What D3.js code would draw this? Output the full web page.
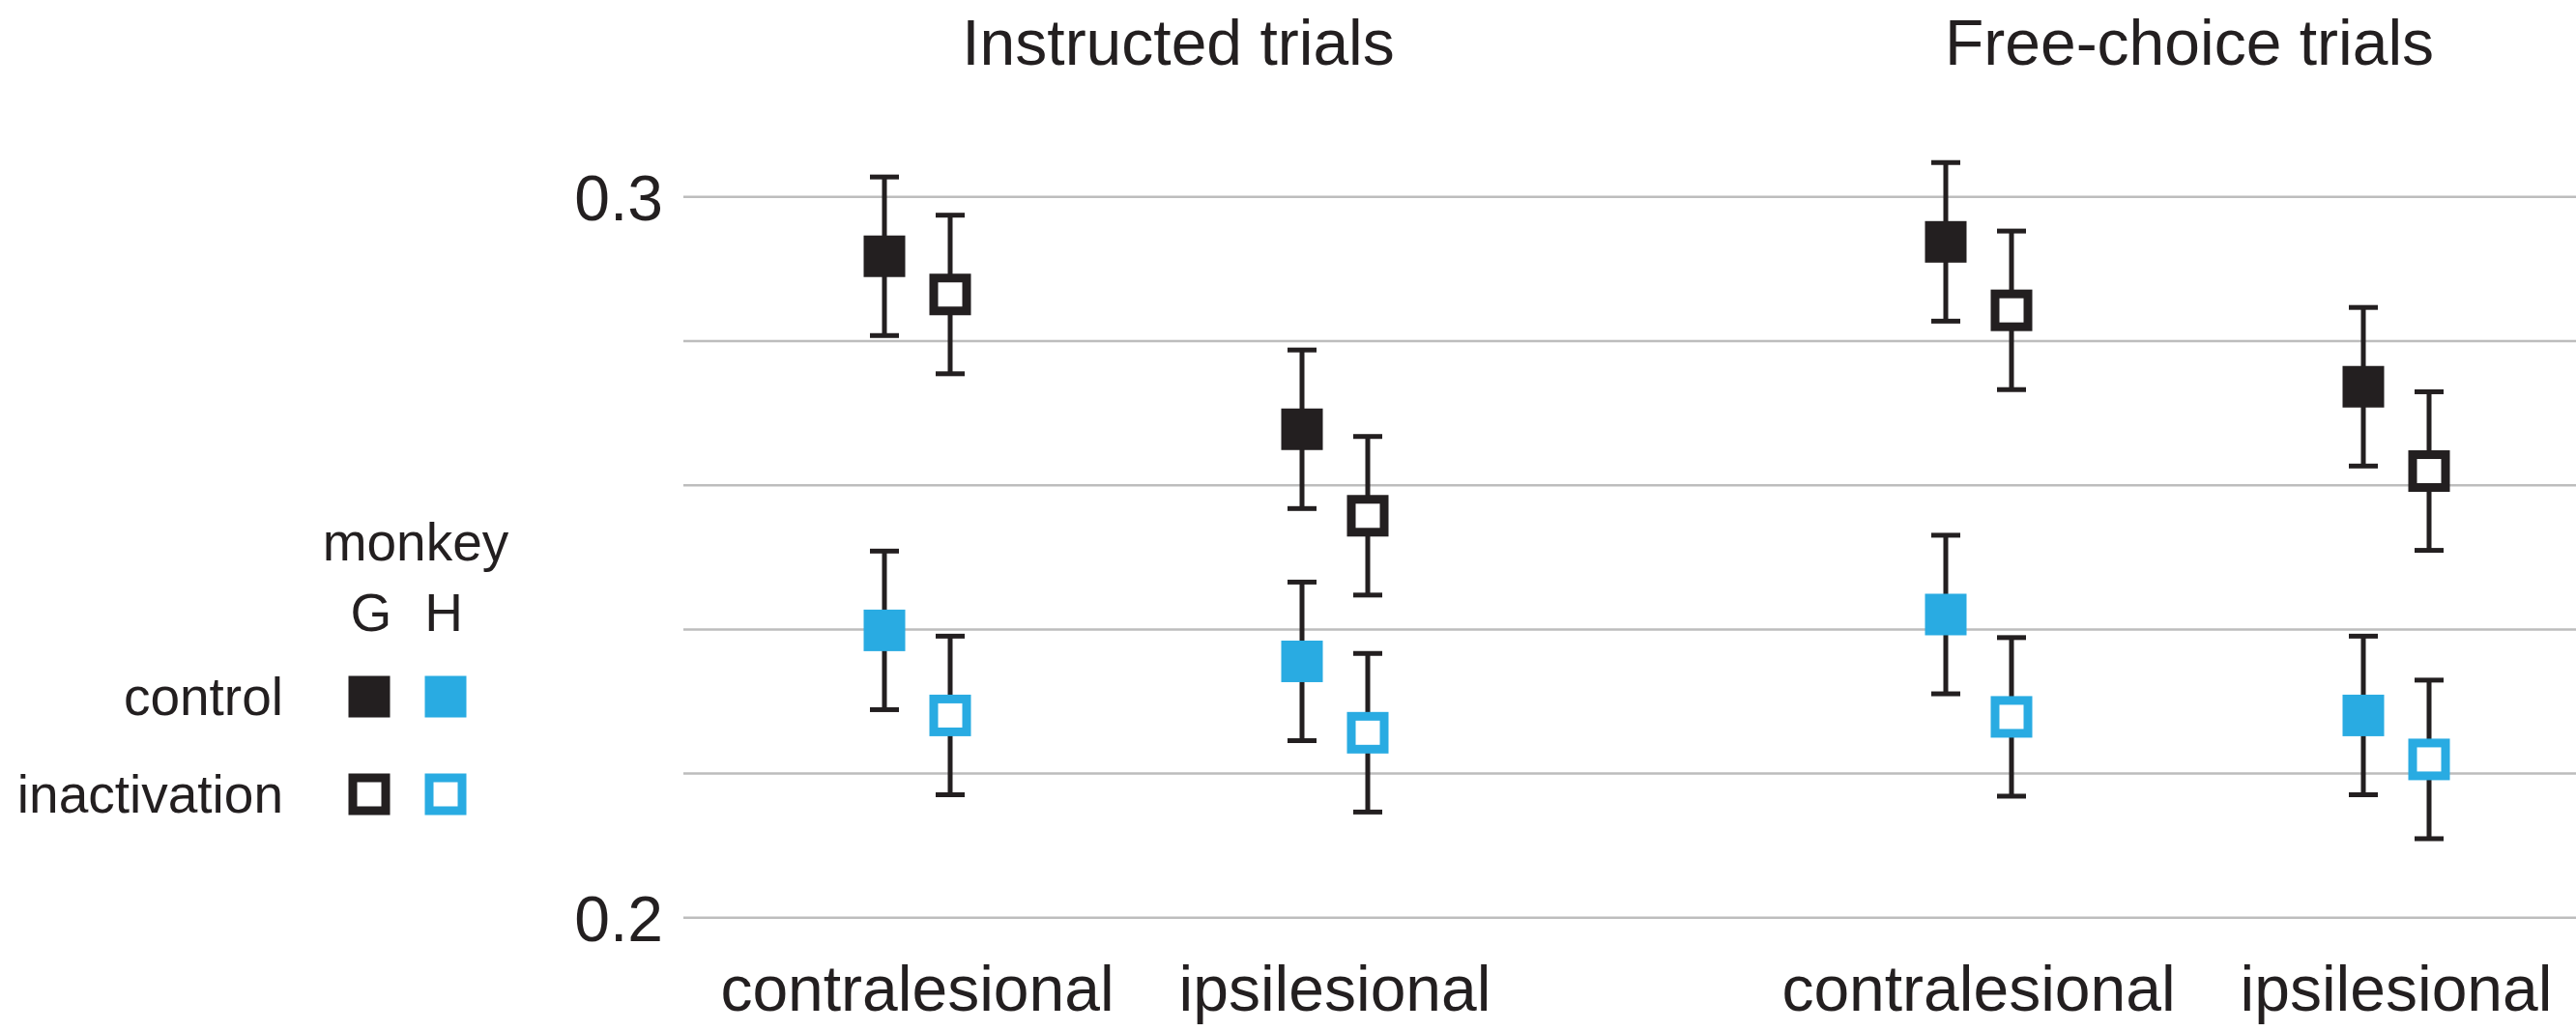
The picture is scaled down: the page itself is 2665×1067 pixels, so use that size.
<!DOCTYPE html>
<html>
<head>
<meta charset="utf-8">
<script src="https://cdn.jsdelivr.net/npm/d3@7"></script>
<style>
  html, body { margin: 0; padding: 0; background: #ffffff; }
  svg { display: block; }
  text { font-family: "Liberation Sans", Arial, Helvetica, sans-serif; fill: #231f20; }
</style>
</head>
<body>
<svg id="chart" width="2665" height="1067"></svg>
<script>
// ---- data ----
const panels = ["Instructed trials", "Free-choice trials"];
const directions = ["contralesional", "ipsilesional"];
const conditions = ["control", "inactivation"];
const monkeys = ["G", "H"];
// values ordered: [Instructed contra, Instructed ipsi, Free contra, Free ipsi]
const gControl    = [0.2917, 0.2677, 0.2937, 0.2736];
const gInact      = [0.2864, 0.2557, 0.2842, 0.2619];
const hControl    = [0.2398, 0.2355, 0.2420, 0.2280];
const hInact      = [0.2280, 0.2256, 0.2278, 0.2219];
const gControlErr = [0.011, 0.011, 0.011, 0.011];
const gInactErr   = [0.011, 0.011, 0.011, 0.011];
const hControlErr = [0.011, 0.011, 0.011, 0.011];
const hInactErr   = [0.011, 0.011, 0.011, 0.011];
const yTicks = [0.2, 0.22, 0.24, 0.26, 0.28, 0.3];
const yTickLabels = ["0.2", "", "", "", "", "0.3"];

// ---- styles / layout ----
const BLACK = "#231f20", BLUE = "#29abe2", GRID = "#bdbdbd";
const W = 2665, H = 1067;
const svg = d3.select("#chart");

const y = d3.scaleLinear().domain([0.2, 0.3]).range([949.3, 203.3]);
const xPanel = d3.scalePoint().domain(panels).range([1165, 2263]);
const xDir = d3.scalePoint().domain(directions).range([-216, 216]);
const xCond = d3.scalePoint().domain(conditions).range([-34, 34]);
const color = d3.scaleOrdinal().domain(monkeys).range([BLACK, BLUE]);

// gridlines via axis
const gridX0 = 707;
const yAxis = d3.axisLeft(y).tickValues(yTicks).tickSize(-(W - gridX0)).tickFormat((d, i) => yTickLabels[i]);
const ga = svg.append("g").attr("transform", `translate(${gridX0},0)`).call(yAxis);
ga.select(".domain").remove();
ga.selectAll(".tick line").attr("stroke", GRID).attr("stroke-width", 2.5);
ga.selectAll(".tick text")
  .attr("x", -21).attr("dy", "0.36em")
  .style("font-size", "66px").attr("fill", BLACK)
  .style("font-family", '"Liberation Sans", Arial, sans-serif');

// panel titles
const titleX = [1219, 2265];
svg.selectAll(".ptitle").data(panels).enter().append("text")
  .attr("class", "ptitle")
  .attr("x", (d, i) => titleX[i]).attr("y", 67)
  .attr("text-anchor", "middle").style("font-size", "66px")
  .text(d => d);

// category labels
const cats = [];
panels.forEach(p => directions.forEach(d => cats.push({ panel: p, dir: d })));
svg.selectAll(".clabel").data(cats).enter().append("text")
  .attr("class", "clabel")
  .attr("x", d => xPanel(d.panel) + xDir(d.dir))
  .attr("y", 1046)
  .attr("text-anchor", "middle").style("font-size", "66px")
  .text(d => d.dir);

// build points
const seriesDefs = [
  { monkey: "G", cond: "control", vals: gControl, errs: gControlErr },
  { monkey: "G", cond: "inactivation", vals: gInact, errs: gInactErr },
  { monkey: "H", cond: "control", vals: hControl, errs: hControlErr },
  { monkey: "H", cond: "inactivation", vals: hInact, errs: hInactErr }
];
const pts = [];
seriesDefs.forEach(s => {
  cats.forEach((c, i) => {
    pts.push({ monkey: s.monkey, cond: s.cond, v: s.vals[i], e: s.errs[i],
               x: xPanel(c.panel) + xDir(c.dir) + xCond(s.cond) });
  });
});

const SQ = 43, SW = 9, CAP = 30, LW = 5;
// error bars
const eb = svg.append("g");
eb.selectAll(".whisk").data(pts).enter().append("line")
  .attr("x1", d => d.x).attr("x2", d => d.x)
  .attr("y1", d => y(d.v + d.e)).attr("y2", d => y(d.v - d.e))
  .attr("stroke", BLACK).attr("stroke-width", LW);
eb.selectAll(".capT").data(pts).enter().append("line")
  .attr("x1", d => d.x - CAP / 2).attr("x2", d => d.x + CAP / 2)
  .attr("y1", d => y(d.v + d.e)).attr("y2", d => y(d.v + d.e))
  .attr("stroke", BLACK).attr("stroke-width", LW);
eb.selectAll(".capB").data(pts).enter().append("line")
  .attr("x1", d => d.x - CAP / 2).attr("x2", d => d.x + CAP / 2)
  .attr("y1", d => y(d.v - d.e)).attr("y2", d => y(d.v - d.e))
  .attr("stroke", BLACK).attr("stroke-width", LW);

// markers
function drawMarker(sel, cx, cy, monkey, cond) {
  if (cond === "control") {
    sel.append("rect").attr("x", cx - SQ / 2).attr("y", cy - SQ / 2)
      .attr("width", SQ).attr("height", SQ).attr("fill", color(monkey));
  } else {
    const s = SQ - SW;
    sel.append("rect").attr("x", cx - s / 2).attr("y", cy - s / 2)
      .attr("width", s).attr("height", s).attr("fill", "#ffffff")
      .attr("stroke", color(monkey)).attr("stroke-width", SW);
  }
}
const mk = svg.append("g");
pts.forEach(d => drawMarker(mk, d.x, y(d.v), d.monkey, d.cond));

// legend
const lg = svg.append("g");
const legX = d3.scalePoint().domain(monkeys).range([382, 461]);
const legY = d3.scalePoint().domain(conditions).range([721, 822]);
lg.append("text").attr("x", 430).attr("y", 580).attr("text-anchor", "middle")
  .style("font-size", "55px").text("monkey");
monkeys.forEach(m => {
  lg.append("text").attr("x", legX(m) + (m === "G" ? 2 : -2)).attr("y", 653)
    .attr("text-anchor", "middle").style("font-size", "55px").text(m);
});
conditions.forEach(c => {
  lg.append("text").attr("x", 293).attr("y", legY(c) + 19)
    .attr("text-anchor", "end").style("font-size", "55px").text(c);
  monkeys.forEach(m => drawMarker(lg, legX(m), legY(c), m, c));
});
</script>
</body>
</html>
